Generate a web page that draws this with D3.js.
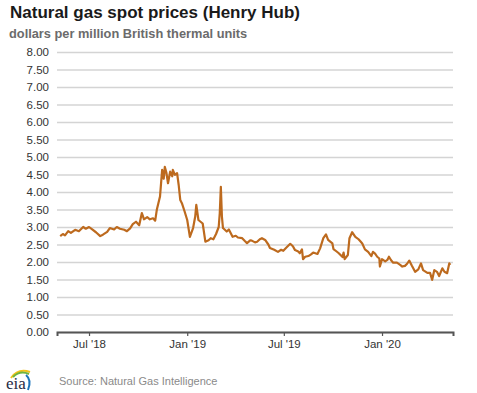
<!DOCTYPE html>
<html>
<head>
<meta charset="utf-8">
<script src="https://cdn.jsdelivr.net/npm/d3@7"></script>
<style>
  body { margin: 0; background: #fff; }
  text { font-family: "Liberation Sans", Arial, sans-serif; }
</style>
</head>
<body>
<div id="chart"></div>
<script>
// Henry Hub spot price, dollars per million Btu
const dates = [
  "2018-05-08","2018-05-13","2018-05-17","2018-05-23","2018-05-28","2018-06-05","2018-06-12","2018-06-20","2018-06-25",
  "2018-07-01","2018-07-07","2018-07-14","2018-07-22","2018-07-27","2018-08-04","2018-08-09","2018-08-17","2018-08-22",
  "2018-08-28","2018-09-05","2018-09-10","2018-09-16","2018-09-21","2018-09-27","2018-10-03","2018-10-08","2018-10-12",
  "2018-10-18","2018-10-23","2018-10-29","2018-11-02","2018-11-05","2018-11-11","2018-11-15","2018-11-18","2018-11-20",
  "2018-11-23","2018-11-26","2018-11-30","2018-12-04","2018-12-05","2018-12-09","2018-12-13","2018-12-16","2018-12-19",
  "2018-12-22","2018-12-27","2019-01-01","2019-01-06","2019-01-12","2019-01-16","2019-01-18","2019-01-22","2019-01-30",
  "2019-02-04","2019-02-10","2019-02-14","2019-02-19","2019-02-24","2019-03-01","2019-03-03","2019-03-05","2019-03-07",
  "2019-03-09","2019-03-16","2019-03-20","2019-03-27","2019-04-02","2019-04-06","2019-04-14","2019-04-19","2019-04-23",
  "2019-04-29","2019-05-02","2019-05-08","2019-05-12","2019-05-17","2019-05-21","2019-05-27","2019-06-02","2019-06-05",
  "2019-06-13","2019-06-20","2019-06-26","2019-06-30","2019-07-05","2019-07-13","2019-07-18","2019-07-22","2019-07-28",
  "2019-07-31","2019-08-04","2019-08-06","2019-08-10","2019-08-16","2019-08-21","2019-08-25","2019-09-02","2019-09-07",
  "2019-09-13","2019-09-18","2019-09-22","2019-09-26","2019-09-30","2019-10-02","2019-10-08","2019-10-12","2019-10-19",
  "2019-10-21","2019-10-23","2019-10-29","2019-11-01","2019-11-06","2019-11-12","2019-11-18","2019-11-21","2019-11-25",
  "2019-11-30","2019-12-06","2019-12-12","2019-12-15","2019-12-19","2019-12-23","2019-12-27","2019-12-28","2020-01-01",
  "2020-01-07","2020-01-11","2020-01-14","2020-01-18","2020-01-22","2020-01-29","2020-02-04","2020-02-08","2020-02-13",
  "2020-02-17","2020-02-21","2020-02-26","2020-03-03","2020-03-09","2020-03-14","2020-03-18","2020-03-26","2020-03-31",
  "2020-04-04","2020-04-08","2020-04-13","2020-04-17","2020-04-23","2020-04-27","2020-05-02","2020-05-06","2020-05-08"
];
const prices = [
  2.74,2.80,2.76,2.88,2.83,2.92,2.88,3.00,2.95,
  3.00,2.93,2.85,2.74,2.78,2.86,2.97,2.93,3.00,
  2.95,2.92,2.88,2.96,3.08,3.15,3.05,3.40,3.22,
  3.28,3.22,3.25,3.18,3.49,3.87,4.63,4.38,4.72,
  4.55,4.25,4.58,4.45,4.63,4.49,4.54,4.20,3.77,
  3.68,3.45,3.20,2.72,2.97,3.30,3.63,3.20,3.10,
  2.58,2.62,2.68,2.65,2.80,3.00,3.40,4.15,3.30,
  2.97,2.87,2.93,2.72,2.75,2.70,2.68,2.60,2.54,
  2.62,2.61,2.56,2.58,2.65,2.68,2.63,2.50,2.40,
  2.35,2.29,2.35,2.32,2.40,2.52,2.45,2.34,2.30,
  2.25,2.36,2.08,2.15,2.17,2.22,2.27,2.23,2.39,
  2.68,2.79,2.63,2.58,2.53,2.37,2.30,2.25,2.14,
  2.27,2.08,2.20,2.68,2.85,2.72,2.65,2.60,2.53,
  2.36,2.29,2.17,2.29,2.24,2.15,2.10,1.87,2.08,
  2.02,2.06,2.15,2.05,1.98,1.98,1.92,1.87,1.89,
  1.95,2.04,1.89,1.72,1.79,1.96,1.77,1.69,1.69,
  1.49,1.77,1.72,1.60,1.82,1.72,1.68,1.96,1.92
];
const yTicks = [0, 0.5, 1, 1.5, 2, 2.5, 3, 3.5, 4, 4.5, 5, 5.5, 6, 6.5, 7, 7.5, 8];
const xTicks = ["2018-07-01", "2019-01-01", "2019-07-01", "2020-01-01"];
const xTickLabels = ["Jul '18", "Jan '19", "Jul '19", "Jan '20"];

const parse = d3.timeParse("%Y-%m-%d");
const data = dates.map((d, i) => ({ date: parse(d), value: prices[i] }));

const W = 477, H = 393;
const margin = { top: 52, right: 24, bottom: 61, left: 57 };
const width = W - margin.left - margin.right;
const height = H - margin.top - margin.bottom;

const svg = d3.select("#chart").append("svg")
    .attr("width", W)
    .attr("height", H);

// titles
svg.append("text")
    .attr("x", 10).attr("y", 18)
    .attr("font-size", 17).attr("font-weight", "bold").attr("fill", "#1a1a1a")
    .text("Natural gas spot prices (Henry Hub)");
svg.append("text")
    .attr("x", 9).attr("y", 38)
    .attr("font-size", 12.8).attr("font-weight", "bold").attr("fill", "#6b6b6b")
    .text("dollars per million British thermal units");

const g = svg.append("g")
    .attr("transform", `translate(${margin.left}, ${margin.top})`);

const x = d3.scaleTime()
    .domain([parse("2018-05-02"), parse("2020-05-13")])
    .range([0, width]);
const y = d3.scaleLinear()
    .domain([0, 8])
    .range([height, 0]);

// gridlines + y labels
const yAxis = d3.axisLeft(y)
    .tickValues(yTicks)
    .tickSize(-width)
    .tickFormat(d3.format(".2f"));
const yG = g.append("g").call(yAxis);
yG.select(".domain").remove();
yG.selectAll(".tick line").attr("stroke", "#d4d4d4").attr("stroke-width", 1.5);
yG.selectAll(".tick text")
    .attr("x", -8)
    .attr("font-size", 11.5).attr("fill", "#333")
    .style("font-family", "'Liberation Sans', Arial, sans-serif");

// x axis
const xAxis = d3.axisBottom(x)
    .tickValues(xTicks.map(parse))
    .tickSize(4)
    .tickFormat((d, i) => xTickLabels[i]);
const xG = g.append("g")
    .attr("transform", `translate(0, ${height})`)
    .call(xAxis);
xG.select(".domain").attr("stroke", "#555").attr("stroke-width", 2);
xG.selectAll(".tick line").attr("stroke", "#555").attr("stroke-width", 1.2);
xG.selectAll(".tick text")
    .attr("y", 8)
    .attr("font-size", 11.5).attr("fill", "#333")
    .style("font-family", "'Liberation Sans', Arial, sans-serif");

// price line
const line = d3.line()
    .x(d => x(d.date))
    .y(d => y(d.value));
g.append("path")
    .datum(data)
    .attr("fill", "none")
    .attr("stroke", "#bd6a1e")
    .attr("stroke-width", 2.2)
    .attr("stroke-linejoin", "round")
    .attr("d", line);

// eia logo + source
const logo = svg.append("g").attr("transform", "translate(4, 368)");
logo.append("path")
    .attr("d", "M7,10 Q14,0 26,4")
    .attr("fill", "none").attr("stroke", "#f2c21b").attr("stroke-width", 2);
logo.append("path")
    .attr("d", "M9,9 Q16,2 25,6")
    .attr("fill", "none").attr("stroke", "#6fb43f").attr("stroke-width", 2);
logo.append("path")
    .attr("d", "M22,7 Q28,12 24,22")
    .attr("fill", "none").attr("stroke", "#1d75bb").attr("stroke-width", 2);
logo.append("text")
    .attr("x", 2).attr("y", 21)
    .attr("font-size", 17).attr("fill", "#1f2a44")
    .style("font-family", "'Liberation Serif', serif")
    .text("eia");

svg.append("text")
    .attr("x", 59).attr("y", 385)
    .attr("font-size", 11).attr("fill", "#8a8a8a")
    .text("Source: Natural Gas Intelligence");
</script>
</body>
</html>
